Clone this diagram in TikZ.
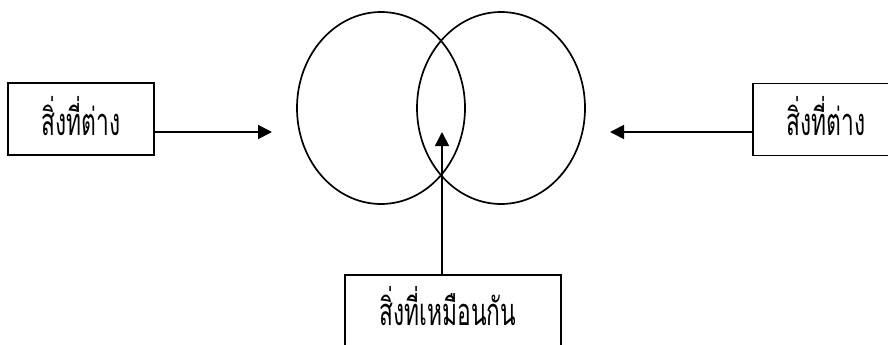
\documentclass[tikz,border=0pt]{standalone}
\usepackage{fontspec}
\newfontfamily\thaifont[Script=Thai]{Loma}
\usetikzlibrary{arrows.meta,shapes.geometric,calc}
\newcommand{\narrowthai}[1]{\scalebox{0.6}[1]{#1}}
\begin{document}
\begin{tikzpicture}[x=1pt,y=1pt,
  lw/.style={line width=1.7pt},
  boxnode/.style={draw,lw,rectangle,inner sep=0pt,outer sep=0pt,minimum width=146pt,minimum height=72pt},
  circnode/.style={draw,lw,ellipse,inner sep=0pt,outer sep=0pt,minimum width=168pt,minimum height=192pt},
  txt/.style={anchor=base,inner sep=0pt,font=\thaifont\fontsize{38}{44}\selectfont},
  arr/.style={lw,-{Triangle[length=14pt,width=14pt]}}]
\useasboundingbox (0,0) rectangle (888,-345);
\clip (0,0) rectangle (888,-345);
\node[circnode] (cl) at (381,-108) {};
\node[circnode] (cr) at (501,-108) {};
\node[boxnode] (bl) at (81,-119) {};
\node[boxnode] (br) at (826,-119.5) {};
\node[boxnode,minimum width=216pt] (bb) at (453,-311) {};
\node[txt] (tl) at (81,-135) {\narrowthai{สิ่งที่ต่าง}};
\node[txt] (tr) at (826,-135) {\narrowthai{สิ่งที่ต่าง}};
\node[txt] (tb) at (448,-325) {\narrowthai{สิ่งที่เหมือนกัน}};
\coordinate (al) at (272,-132);
\coordinate (ar) at (610,-132);
\coordinate (ab) at (442,-132);
\draw[arr] (bl.east |- al) -- (al);
\draw[arr] (br.west |- ar) -- (ar);
\draw[arr] (bb.north -| ab) -- (ab);
\end{tikzpicture}
\end{document}
